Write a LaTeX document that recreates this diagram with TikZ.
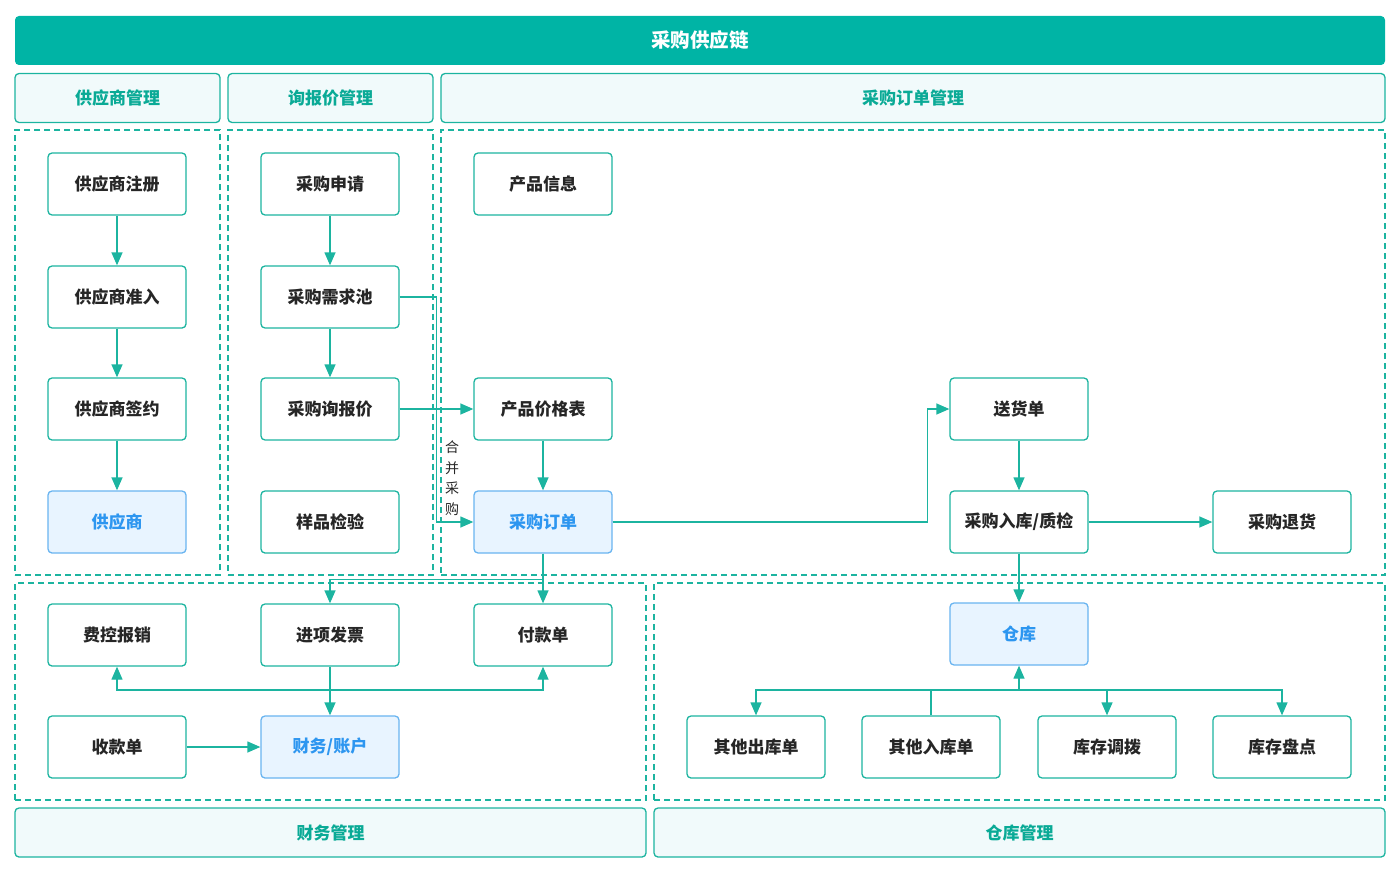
\documentclass[tikz,border=0pt]{standalone}
\usepackage{fontspec}
\setmainfont{Noto Sans CJK SC}
\usetikzlibrary{arrows.meta}
\definecolor{teal1}{RGB}{0,180,165}
\definecolor{tline}{RGB}{28,180,160}
\definecolor{htext}{RGB}{10,170,150}
\definecolor{hfill}{RGB}{241,250,251}
\definecolor{bfill}{RGB}{232,244,255}
\definecolor{bline}{RGB}{105,180,240}
\definecolor{btext}{RGB}{45,150,240}
\definecolor{dtext}{RGB}{38,38,38}
\begin{document}
\begin{tikzpicture}[x=1pt,y=-1pt,
  box/.style={draw=tline, line width=1.3pt, rounded corners=4pt, fill=white,
    minimum width=138pt, minimum height=62pt, inner sep=0pt,
    font=\fontsize{17}{19}\selectfont\bfseries, text=dtext},
  bbox/.style={box, draw=bline, fill=bfill, text=btext},
  hdr/.style={draw=tline, line width=1.3pt, rounded corners=4pt, fill=hfill,
    minimum height=49pt, inner sep=0pt, font=\fontsize{17}{19}\selectfont\bfseries, text=htext},
  area/.style={draw=tline, line width=1.2pt, dash pattern=on 6pt off 4pt,
    minimum height=445pt, inner sep=0pt},
  barea/.style={area, minimum height=217pt},
  arr/.style={draw=tline, line width=1.3pt, -{Triangle[length=13pt,width=11pt]}},
  ln/.style={draw=tline, line width=1.3pt}]
\useasboundingbox (0,0) rectangle (1400,875);

% title and headers
\node[fill=teal1, rounded corners=4pt, minimum width=1370pt, minimum height=49pt, inner sep=0pt,
  text=white, font=\fontsize{19.5}{21}\selectfont\bfseries] (title) at (700,40.5) {采购供应链};
\node[hdr, minimum width=205pt] (h1) at (117.5,98) {供应商管理};
\node[hdr, minimum width=205pt] (h2) at (330.5,98) {询报价管理};
\node[hdr, minimum width=944pt] (h3) at (913,98) {采购订单管理};

% dashed areas
\node[area, minimum width=205pt] (a1) at (117.5,352.5) {};
\node[area, minimum width=205pt] (a2) at (330.5,352.5) {};
\node[area, minimum width=944pt] (a3) at (913,352.5) {};
\node[barea, minimum width=631pt] (a4) at (330.5,691.5) {};
\node[barea, minimum width=731pt] (a5) at (1019.5,691.5) {};

% footers
\node[hdr, minimum width=631pt] (f1) at (330.5,832.5) {财务管理};
\node[hdr, minimum width=731pt] (f2) at (1019.5,832.5) {仓库管理};

% supplier column
\node[box] (zc) at (117,184) {供应商注册};
\node[box] (zr) at (117,297) {供应商准入};
\node[box] (qy) at (117,409) {供应商签约};
\node[bbox] (gys) at (117,522) {供应商};

% inquiry column
\node[box] (sq) at (330,184) {采购申请};
\node[box] (xq) at (330,297) {采购需求池};
\node[box] (xbj) at (330,409) {采购询报价};
\node[box] (yp) at (330,522) {样品检验};

% order area
\node[box] (cp) at (543,184) {产品信息};
\node[box] (jg) at (543,409) {产品价格表};
\node[bbox] (po) at (543,522) {采购订单};
\node[box] (sh) at (1019,409) {送货单};
\node[box] (rk) at (1019,522) {采购入库/质检};
\node[box] (th) at (1282,522) {采购退货};

% finance
\node[box] (fy) at (117,635) {费控报销};
\node[box] (jx) at (330,635) {进项发票};
\node[box] (fk) at (543,635) {付款单};
\node[box] (sk) at (117,747) {收款单};
\node[bbox] (cw) at (330,747) {财务/账户};

% warehouse
\node[bbox] (ck) at (1019,634) {仓库};
\node[box] (qc) at (756,747) {其他出库单};
\node[box] (qr) at (931,747) {其他入库单};
\node[box] (db) at (1107,747) {库存调拨};
\node[box] (pd) at (1282,747) {库存盘点};

% edges
\draw[arr] (zc) -- (zr);
\draw[arr] (zr) -- (qy);
\draw[arr] (qy) -- (gys);
\draw[arr] (sq) -- (xq);
\draw[arr] (xq) -- (xbj);
\draw[arr] (xq.east) -- ++(37,0) |- (po.west);
\node[font=\fontsize{14}{20.5}\selectfont, text=dtext, align=center, inner sep=0pt] (hb) at (452,478) {合\\并\\采\\购};
\draw[arr] (xbj) -- (jg);
\draw[arr] (jg) -- (po);
\draw[arr] (po.east) -- ++(315,0) |- (sh.west);
\draw[arr] (sh) -- (rk);
\draw[arr] (rk) -- (th);
\draw[arr] (rk) -- (ck);
\draw[arr] (po) -- (fk);
\draw[arr] (po.south) -- ++(0,26) -| (jx.north);
\draw[arr] (jx) -- (cw);
\coordinate (j1) at (330,690);
\draw[arr] (j1) -| (fy.south);
\draw[arr] (j1) -| (fk.south);
\draw[arr] (sk) -- (cw);
\coordinate (w1) at (1019,690);
\draw[arr] (w1) -- (ck.south);
\draw[arr] (w1) -| (qc.north);
\draw[arr] (w1) -| (db.north);
\draw[arr] (w1) -| (pd.north);
\draw[ln] (qr.north) |- (w1);
\end{tikzpicture}
\end{document}
